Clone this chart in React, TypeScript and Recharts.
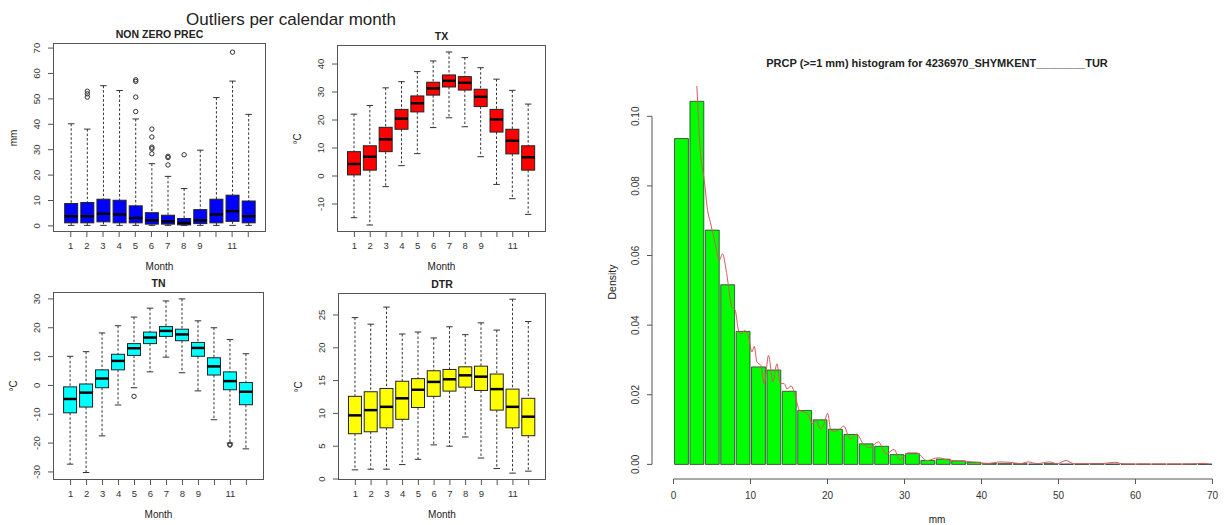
import { ComposedChart, LineChart, Bar, Line, XAxis, YAxis, ReferenceLine } from "recharts";

const FONT = '"Liberation Sans", Arial, Helvetica, sans-serif';

const months = [1, 2, 3, 4, 5, 6, 7, 8, 9, 10, 11, 12];

// per month: [low whisker, Q1, median, Q3, high whisker]
const precStats = [
  [0.2, 1.2, 3.8, 8.8, 40.2],
  [0.2, 1.2, 3.8, 9.2, 38.1],
  [0.2, 1.6, 4.8, 10.5, 55.2],
  [0.2, 1.2, 4.5, 10.1, 53.3],
  [0.2, 1.2, 3.1, 7.9, 42.1],
  [0.2, 0.7, 2.2, 5.2, 24.5],
  [0.2, 0.7, 1.8, 4.2, 19.5],
  [0.2, 0.4, 1.2, 2.9, 14.7],
  [0.2, 0.9, 2.2, 6.4, 29.8],
  [0.2, 1.2, 4.5, 10.5, 50.5],
  [0.2, 1.8, 5.8, 12.1, 57.0],
  [0.2, 1.2, 3.8, 9.8, 43.9],
];
const precOutliers = [
  [], [50.7, 52, 53], [], [], [45, 50.7, 56.9, 57.5], [28.4, 30.4, 31, 35, 38.1],
  [24, 26.9, 27.4], [28], [], [], [68.4], [],
];

const txStats = [
  [-14.9, 0.4, 4.3, 8.7, 22.1],
  [-17.5, 2.1, 6.9, 10.8, 25.2],
  [-3.8, 8.7, 13.1, 17.4, 31.5],
  [3.7, 16.7, 20.5, 23.8, 33.7],
  [8.0, 22.9, 26.0, 28.6, 37.3],
  [17.3, 28.9, 31.3, 33.5, 41.1],
  [20.8, 31.8, 34.0, 36.1, 44.3],
  [17.6, 30.7, 33.3, 35.5, 42.3],
  [6.9, 24.8, 28.3, 31.0, 38.7],
  [-3.0, 15.7, 20.2, 23.8, 34.6],
  [-8.1, 7.9, 12.6, 16.7, 30.6],
  [-13.7, 2.1, 6.7, 10.8, 25.7],
];
const txOutliers = [[], [], [], [], [], [], [], [], [], [], [], []];

const tnStats = [
  [-27.3, -9.5, -4.7, -0.5, 10.1],
  [-30.2, -7.5, -2.5, 0.5, 11.7],
  [-17.5, -0.8, 2.4, 5.4, 18.2],
  [-6.8, 5.4, 8.5, 10.8, 20.7],
  [-0.8, 10.4, 12.9, 14.5, 23.7],
  [4.7, 14.5, 16.6, 18.5, 26.8],
  [9.8, 17.0, 18.9, 20.4, 29.3],
  [4.4, 15.5, 17.7, 19.5, 30.0],
  [-1.9, 10.1, 13.0, 14.9, 22.4],
  [-11.9, 3.6, 6.6, 9.6, 20.0],
  [-20.0, -1.5, 1.5, 4.7, 15.9],
  [-22.0, -6.7, -2.2, 1.0, 11.0],
];
const tnOutliers = [[], [], [], [], [-3.8], [], [], [], [], [], [-20.4, -20.7], []];

const dtrStats = [
  [1.4, 6.9, 9.7, 12.6, 24.6],
  [1.5, 7.2, 10.5, 13.3, 23.6],
  [1.5, 7.8, 11.0, 13.8, 26.2],
  [2.2, 9.1, 12.3, 14.9, 22.1],
  [3.0, 10.9, 13.6, 15.3, 22.4],
  [5.2, 12.6, 14.8, 16.5, 21.5],
  [5.0, 13.4, 15.2, 16.7, 23.2],
  [6.4, 14.0, 15.8, 17.1, 22.0],
  [3.2, 13.5, 15.6, 17.2, 23.8],
  [1.6, 10.5, 13.7, 16.0, 22.7],
  [0.9, 7.8, 11.0, 13.7, 27.4],
  [1.2, 6.6, 9.5, 12.3, 24.0],
];
const dtrOutliers = [[], [], [], [], [], [], [], [], [], [], [], []];

// histogram, 2 mm bins starting at 0
const binCenters = [
  1, 3, 5, 7, 9, 11, 13, 15, 17, 19, 21, 23, 25, 27, 29, 31, 33, 35, 37, 39,
  41, 43, 45, 47, 49, 51, 53, 55, 57, 59, 61, 63, 65, 67, 69,
];
const binDensity = [
  0.0936, 0.1043, 0.0673, 0.0516, 0.0382, 0.028, 0.0271, 0.021, 0.0155, 0.0128,
  0.0101, 0.0086, 0.0059, 0.0052, 0.0028, 0.0031, 0.0011, 0.0015, 0.001, 0.0006,
  0.0003, 0.0002, 0.0002, 0.0001, 0.0002, 0.0001, 0.0001, 0.0002, 0.0001, 0.0001,
  0.0001, 0.0001, 0.0001, 0.0001, 0.0001,
];

// kernel density curve
const densX = [
  1, 2, 2.6, 3.03, 3.47, 3.99, 4.42, 4.77, 5.42, 5.94, 6.37, 6.84, 7.58, 8.01, 8.44,
  8.88, 9.18, 9.74, 10.18, 10.48, 10.83, 11.35, 11.78, 12.34, 12.9, 13.43, 13.86,
  14.38, 14.72, 15.28, 15.8, 16.36, 16.97, 17.53, 18.05, 18.53, 19.05, 19.57, 20.0,
  20.44, 21.0, 21.5, 22.1, 22.95, 23.8, 24.6, 25.5, 26.6, 27.6, 28.66, 29.35, 30.5,
  31.6, 32.9, 34.4, 35.5, 36.8, 38.1, 39.4, 40.7, 42.4, 43.7, 45.0, 46.1, 47.2, 48.8,
  49.8, 51.0, 52.0, 54.0, 55.5, 57.3, 58.5, 61.0, 64.0, 67.0, 69.0, 69.5,
];
const densY = [
  0.17, 0.15, 0.125, 0.1084, 0.0902, 0.0816, 0.073, 0.0696, 0.0634, 0.0586, 0.0605,
  0.0557, 0.0452, 0.0443, 0.0385, 0.0375, 0.0385, 0.0366, 0.0323, 0.0339, 0.0294,
  0.0284, 0.0232, 0.0313, 0.0237, 0.0289, 0.0232, 0.0232, 0.0217, 0.0225, 0.0198,
  0.0155, 0.015, 0.0141, 0.0117, 0.0126, 0.0102, 0.0117, 0.0147, 0.0098, 0.0095,
  0.01, 0.011, 0.0073, 0.0087, 0.006, 0.0048, 0.0065, 0.003, 0.0043, 0.0013, 0.0033,
  0.0033, 0.0011, 0.0019, 0.0013, 0.001, 0.0008, 0.0006, 0.0002, 0.0007, 0.0006,
  0.0002, 0.0007, 0.0002, 0.0007, 0.0002, 0.0011, 0.0002, 0.0002, 0.0002, 0.0006,
  0.0001, 0.0001, 0.0001, 0.0001, 0.0003, 0.0001,
];

const histRows = binCenters.map((x, i) => ({ x, density: binDensity[i] }));
const densRows = densX.map((x, i) => ({ x, d: densY[i] }));

function buildRows(stats: number[][], outliers: number[][]) {
  return months.map((m, i) => {
    const [lo, q1, med, q3, hi] = stats[i];
    return { month: m, range: [lo, hi], lo, q1, med, q3, hi, out: outliers[i] };
  });
}

function boxShape(fill: string) {
  return (props: any) => {
    const { x, y, width, height, payload } = props;
    if (!payload) return <g />;
    const top = Math.min(y, y + height);
    const bottom = Math.max(y, y + height);
    const span = payload.hi - payload.lo;
    const py = (v: number) => top + ((payload.hi - v) / span) * (bottom - top);
    const cx = x + width / 2;
    const cap = width / 4;
    return (
      <g>
        <line x1={cx} x2={cx} y1={py(payload.hi)} y2={py(payload.q3)} stroke="#333" strokeDasharray="2.5 2" />
        <line x1={cx} x2={cx} y1={py(payload.q1)} y2={py(payload.lo)} stroke="#333" strokeDasharray="2.5 2" />
        <line x1={cx - cap} x2={cx + cap} y1={py(payload.hi)} y2={py(payload.hi)} stroke="#333" />
        <line x1={cx - cap} x2={cx + cap} y1={py(payload.lo)} y2={py(payload.lo)} stroke="#333" />
        <rect x={x} y={py(payload.q3)} width={width} height={py(payload.q1) - py(payload.q3)} fill={fill} stroke="#222" />
        <line x1={x} x2={x + width} y1={py(payload.med)} y2={py(payload.med)} stroke="#000" strokeWidth={2.5} />
        {payload.out.map((v: number, k: number) => (
          <circle key={k} cx={cx} cy={py(v)} r={2.2} fill="none" stroke="#333" />
        ))}
      </g>
    );
  };
}

const VerticalTick = (props: any) => {
  const { x, y, payload, fontSize, fmt } = props;
  return (
    <text
      x={x}
      y={y}
      transform={`rotate(-90 ${x} ${y})`}
      textAnchor="middle"
      fontSize={fontSize}
      fontFamily={FONT}
      fill="#333"
    >
      {fmt ? fmt(payload.value) : payload.value}
    </text>
  );
};

const Txt = ({ x, y, size, bold, rotate, children }: any) => (
  <div
    style={{
      position: "absolute",
      left: x,
      top: y,
      transform: `translate(-50%, -50%)${rotate ? " rotate(-90deg)" : ""}`,
      fontSize: size,
      fontWeight: bold ? "bold" : "normal",
      lineHeight: 1,
      whiteSpace: "nowrap",
      color: "#222",
    }}
  >
    {children}
  </div>
);

interface BoxPanelProps {
  stats: number[][];
  outliers: number[][];
  color: string;
  domain: [number, number];
  ticks: number[];
  frame: { left: number; top: number; w: number; h: number };
  title: string;
  yLabel: string;
}

function BoxPanel({ stats, outliers, color, domain, ticks, frame, title, yLabel }: BoxPanelProps) {
  const rows = buildRows(stats, outliers);
  const axisW = 50;
  const cx = frame.left + frame.w / 2;
  return (
    <>
      <div style={{ position: "absolute", left: frame.left - axisW, top: frame.top - 5 }}>
        <ComposedChart
          width={axisW + frame.w + 5}
          height={5 + frame.h + 40}
          data={rows}
          margin={{ top: 5, right: 5, bottom: 0, left: 0 }}
        >
          <XAxis
            type="number"
            dataKey="month"
            domain={[-0.1, 13.1]}
            ticks={months}
            interval={0}
            allowDataOverflow
            axisLine={false}
            tickLine={{ stroke: "#555" }}
            tickSize={5}
            tickMargin={5}
            height={40}
            tick={{ fontSize: 9.5, fill: "#333", fontFamily: FONT }}
            tickFormatter={(v: number) => (v === 10 || v === 12 ? "" : String(v))}
          />
          <YAxis
            type="number"
            domain={domain}
            ticks={ticks}
            interval={0}
            allowDataOverflow
            width={axisW}
            axisLine={false}
            tickLine={{ stroke: "#555" }}
            tickSize={5}
            tickMargin={8}
            tick={(p: any) => <VerticalTick {...p} fontSize={9.5} />}
          />
          <Bar dataKey="range" barSize={13} shape={boxShape(color)} isAnimationActive={false} />
        </ComposedChart>
      </div>
      <div
        style={{
          position: "absolute",
          left: frame.left,
          top: frame.top,
          width: frame.w,
          height: frame.h,
          border: "1px solid #555",
          boxSizing: "border-box",
          pointerEvents: "none",
        }}
      />
      <Txt x={cx} y={frame.top - 9} size={10.5} bold>{title}</Txt>
      <Txt x={cx} y={frame.top + frame.h + 35} size={10}>Month</Txt>
      <Txt x={frame.left - 39} y={frame.top + frame.h / 2} size={10} rotate>{yLabel}</Txt>
    </>
  );
}

const HIST_X_DOMAIN: [number, number] = [-2.8, 72.8];
const HIST_Y_DOMAIN: [number, number] = [-0.0042, 0.1087];

function HistPanel() {
  const left = 652;
  const top = 86;
  const w = 582;
  const h = 393;
  const axisW = 50;
  const chartW = axisW + w + 10;
  const chartH = 5 + h + 40;
  const margin = { top: 5, right: 10, bottom: 0, left: 0 };
  const pos = { position: "absolute" as const, left: left - axisW, top: top - 5 };
  return (
    <>
      <div style={pos}>
        <ComposedChart width={chartW} height={chartH} data={histRows} margin={margin} barCategoryGap={0} barGap={0}>
          <XAxis
            type="number"
            dataKey="x"
            domain={HIST_X_DOMAIN}
            ticks={[0, 10, 20, 30, 40, 50, 60, 70]}
            interval={0}
            allowDataOverflow
            axisLine={false}
            tickLine={{ stroke: "#555" }}
            tickSize={5}
            tickMargin={8}
            height={40}
            tick={{ fontSize: 10, fill: "#333", fontFamily: FONT }}
          />
          <YAxis
            type="number"
            domain={HIST_Y_DOMAIN}
            ticks={[0, 0.02, 0.04, 0.06, 0.08, 0.1]}
            interval={0}
            allowDataOverflow
            width={axisW}
            axisLine={false}
            tickLine={{ stroke: "#555" }}
            tickSize={5}
            tickMargin={8}
            tick={(p: any) => <VerticalTick {...p} fontSize={10} fmt={(v: number) => v.toFixed(2)} />}
          />
          <Bar
            dataKey="density"
            fill="#00ff00"
            stroke="#333"
            strokeWidth={0.8}
            barSize={(2 * w) / 75.6}
            isAnimationActive={false}
          />
          <ReferenceLine
            segment={[{ x: 0, y: HIST_Y_DOMAIN[0] }, { x: 70, y: HIST_Y_DOMAIN[0] }]}
            stroke="#555"
            ifOverflow="visible"
          />
          <ReferenceLine
            segment={[{ x: HIST_X_DOMAIN[0], y: 0 }, { x: HIST_X_DOMAIN[0], y: 0.1 }]}
            stroke="#555"
            ifOverflow="visible"
          />
        </ComposedChart>
      </div>
      {/* density curve overlaid with identical geometry */}
      <div style={pos}>
        <LineChart width={chartW} height={chartH} data={densRows} margin={margin}>
          <XAxis type="number" dataKey="x" domain={HIST_X_DOMAIN} allowDataOverflow hide={false} axisLine={false} tickLine={false} tick={false} height={40} />
          <YAxis type="number" domain={HIST_Y_DOMAIN} allowDataOverflow axisLine={false} tickLine={false} tick={false} width={axisW} />
          <Line dataKey="d" type="monotone" stroke="#d45a5a" strokeWidth={1} dot={false} isAnimationActive={false} />
        </LineChart>
      </div>
      <Txt x={937} y={63} size={11} bold>PRCP (&gt;=1 mm) histogram for 4236970_SHYMKENT________TUR</Txt>
      <Txt x={612} y={282} size={10.5} rotate>Density</Txt>
      <Txt x={937} y={520} size={10}>mm</Txt>
    </>
  );
}

export default function App() {
  return (
    <div
      style={{
        position: "absolute",
        left: 0,
        top: 0,
        width: 1224,
        height: 525,
        overflow: "hidden",
        background: "#fff",
        fontFamily: FONT,
      }}
    >
      <Txt x={291} y={19} size={17}>Outliers per calendar month</Txt>
      <BoxPanel
        stats={precStats}
        outliers={precOutliers}
        color="#0000ff"
        domain={[-2.4, 72]}
        ticks={[0, 10, 20, 30, 40, 50, 60, 70]}
        frame={{ left: 53, top: 43, w: 213, h: 189 }}
        title="NON ZERO PREC"
        yLabel="mm"
      />
      <BoxPanel
        stats={txStats}
        outliers={txOutliers}
        color="#ff0000"
        domain={[-20, 46.8]}
        ticks={[-10, 0, 10, 20, 30, 40]}
        frame={{ left: 337, top: 45, w: 209, h: 187 }}
        title="TX"
        yLabel="°C"
      />
      <BoxPanel
        stats={tnStats}
        outliers={tnOutliers}
        color="#00ffff"
        domain={[-32.8, 32.4]}
        ticks={[-30, -20, -10, 0, 10, 20, 30]}
        frame={{ left: 53, top: 292, w: 211, h: 188 }}
        title="TN"
        yLabel="°C"
      />
      <BoxPanel
        stats={dtrStats}
        outliers={dtrOutliers}
        color="#ffff00"
        domain={[-0.15, 28.35]}
        ticks={[0, 5, 10, 15, 20, 25]}
        frame={{ left: 338, top: 293, w: 208, h: 187 }}
        title="DTR"
        yLabel="°C"
      />
      <HistPanel />
    </div>
  );
}
